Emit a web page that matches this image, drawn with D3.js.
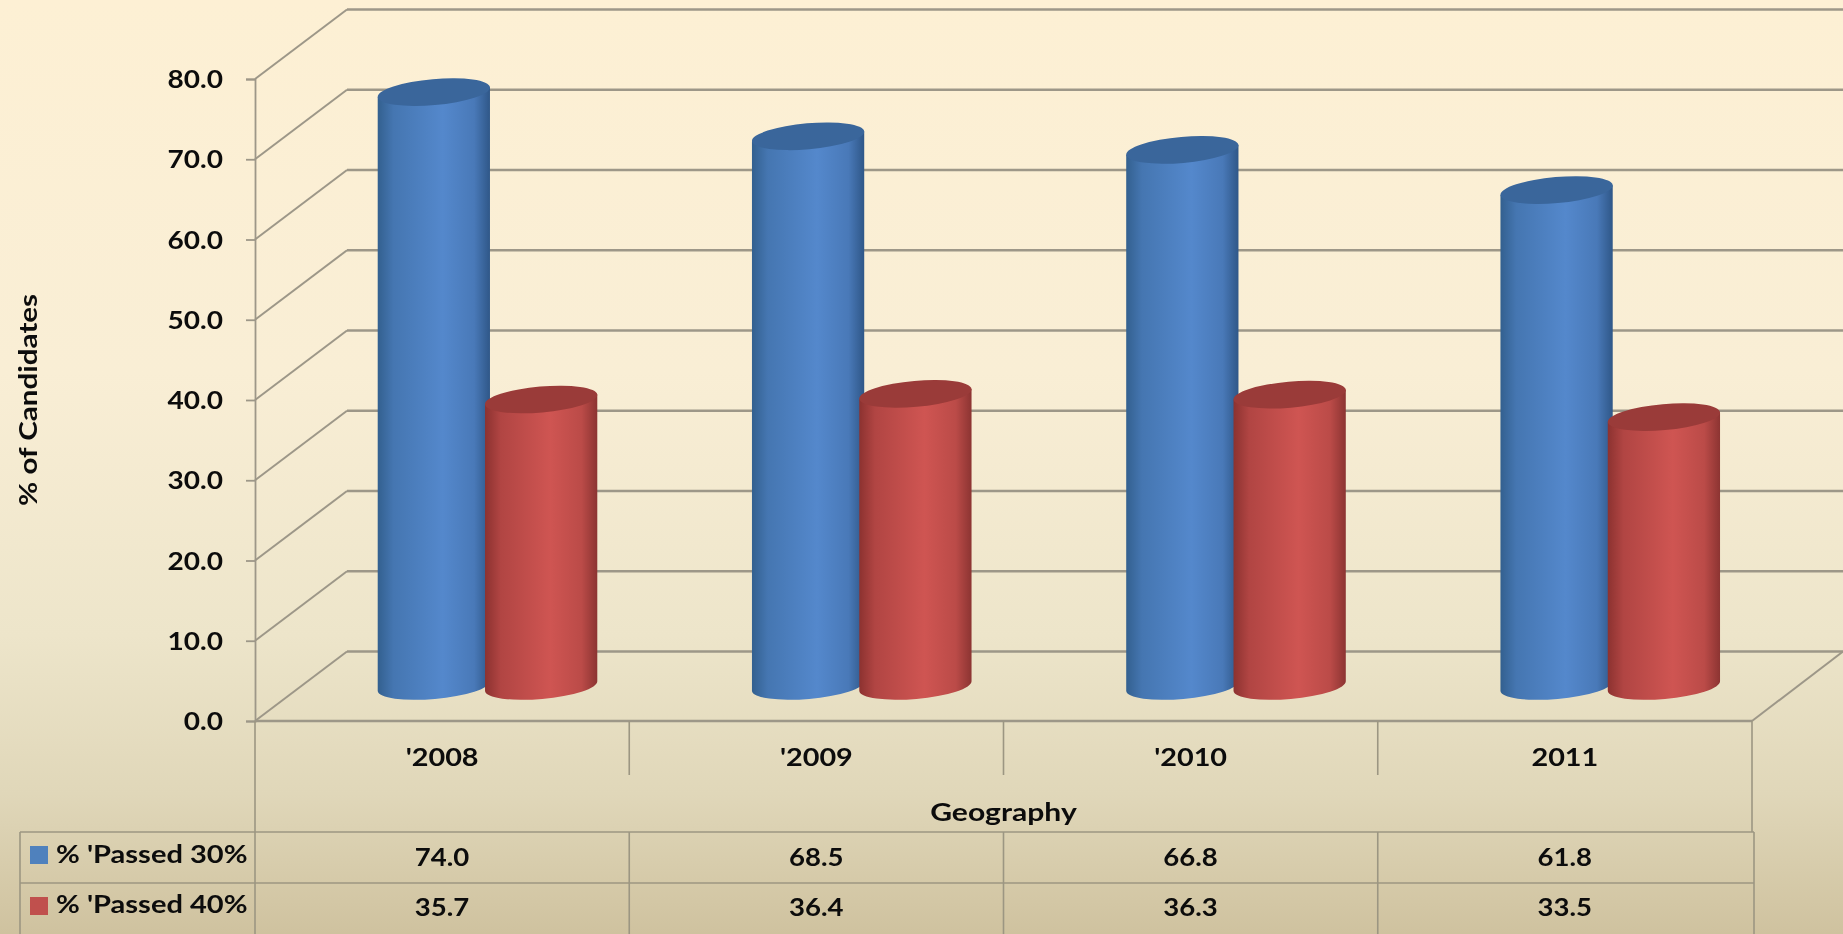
<!DOCTYPE html>
<html>
<head>
<meta charset="utf-8">
<script src="https://cdn.jsdelivr.net/npm/d3@7"></script>
<style>
html,body{margin:0;padding:0;background:#fdf0d4;overflow:hidden}
svg{display:block;filter:blur(0.5px)}
text{font-family:Lato,"Open Sans",sans-serif;font-weight:700;fill:#0c0c0c}
</style>
</head>
<body>
<svg id="c" width="1843" height="934"></svg>
<script>
const categories = ["'2008", "'2009", "'2010", "2011"];
const seriesNames = ["% 'Passed 30%", "% 'Passed 40%"];
const passed30 = [74.0, 68.5, 66.8, 61.8];
const passed40 = [35.7, 36.4, 36.3, 33.5];
const yTicks = [0, 10, 20, 30, 40, 50, 60, 70, 80];
const allSeries = [passed30, passed40];
const palette = [
  {edgeL:"#33608f", mid:"#5488cc", edgeR:"#2f5788", top:"#3a669b", key:"#4f81bd"},
  {edgeL:"#8c3230", mid:"#cf5552", edgeR:"#8c3432", top:"#9a3b39", key:"#c0504d"}
];

const W = 1843, H = 934, FS = 25.5;
const svg = d3.select("#c").attr("viewBox", [0, 0, W, H]);
const defs = svg.append("defs");

const bg = defs.append("linearGradient").attr("id","bg").attr("x1",0).attr("x2",0).attr("y1",0).attr("y2",1);
[[0,"#fdf0d4"],[0.4,"#f9eed5"],[0.68,"#ede5ca"],[0.85,"#e0d7b9"],[1,"#cfc29f"]].forEach(([o,c])=>bg.append("stop").attr("offset",o).attr("stop-color",c));
svg.append("rect").attr("width",W).attr("height",H).attr("fill","url(#bg)");

palette.forEach((p,i)=>{
  const g = defs.append("linearGradient").attr("id","cyl"+i);
  [[0,p.edgeL],[0.14,d3.interpolateRgb(p.edgeL,p.mid)(0.55)],[0.58,p.mid],[0.86,d3.interpolateRgb(p.edgeR,p.mid)(0.7)],[1,p.edgeR]]
    .forEach(([o,c])=>g.append("stop").attr("offset",o).attr("stop-color",c));
});

// Scales: front plane of the 3D box, depth offset to the back wall
const y = d3.scaleLinear().domain([0,80]).range([721,79]);
const x0 = d3.scaleBand().domain(categories).range([255,1752]);
const x1 = d3.scaleBand().domain([0,1]).range([122.5,342.5]).paddingInner(-0.05);
const depthX = 92, depthY = -69.5;
const gridColor = "#9d9788", tableColor = "#9c9682";

const grid = svg.append("g").attr("fill","none");
grid.selectAll(".back").data(yTicks).join("line")
  .attr("x1",255+depthX).attr("x2",W).attr("y1",d=>y(d)+depthY).attr("y2",d=>y(d)+depthY)
  .attr("stroke",gridColor).attr("stroke-width",2.4);
grid.selectAll(".side").data(yTicks).join("line")
  .attr("x1",255).attr("x2",255+depthX).attr("y1",d=>y(d)).attr("y2",d=>y(d)+depthY)
  .attr("stroke",gridColor).attr("stroke-width",2);
grid.append("line").attr("x1",x0.range()[1]).attr("y1",y(0)).attr("x2",W).attr("y2",y(0)+depthY)
  .attr("stroke",gridColor).attr("stroke-width",2);

// Y axis
const yAxis = svg.append("g").attr("transform","translate(255,0)")
  .call(d3.axisLeft(y).tickValues(yTicks).tickSize(9).tickPadding(23).tickFormat(d=>d.toFixed(1)));
yAxis.select(".domain").attr("stroke",gridColor).attr("stroke-width",1.8);
yAxis.selectAll(".tick line").attr("stroke",gridColor).attr("stroke-width",1.8);
yAxis.selectAll("text").attr("font-size",FS).style("font-family","Lato").style("font-weight",700).attr("dy","0.34em");

// Floor front edge
svg.append("line").attr("x1",255).attr("x2",1752).attr("y1",y(0)).attr("y2",y(0)).attr("stroke",gridColor).attr("stroke-width",2.4);

// Cylinders
const barBase = y(0) - 35;
const perUnit = y(0) - y(1);
const rx = x1.bandwidth()/2, ry = 13, tilt = -5;
const rad = tilt*Math.PI/180;
const tipX = rx*Math.cos(rad), tipY = rx*Math.sin(rad);
const bars = svg.append("g");
categories.forEach((c,ci)=>{
  allSeries.forEach((s,si)=>{
    const cx = x0(c) + x1(si) + rx;
    const top = barBase - s[ci]*perUnit;
    const g = bars.append("g");
    g.append("path")
      .attr("d",`M${cx-tipX},${top-tipY}L${cx-tipX},${barBase-tipY}A${rx},${ry} ${tilt} 0 0 ${cx+tipX},${barBase+tipY}L${cx+tipX},${top+tipY}Z`)
      .attr("fill",`url(#cyl${si})`);
    g.append("path")
      .attr("d",`M${cx-tipX},${top-tipY}A${rx},${ry} ${tilt} 0 1 ${cx+tipX},${top+tipY}A${rx},${ry} ${tilt} 0 1 ${cx-tipX},${top-tipY}Z`)
      .attr("fill",palette[si].top);
  });
});

// Data table
const rowY = [832, 883, 934];
const tableX = [20, ...categories.map(c=>x0(c)), 1752];
const t = svg.append("g").attr("stroke",tableColor).attr("stroke-width",1.6);
t.append("line").attr("x1",255).attr("x2",255).attr("y1",y(0)).attr("y2",rowY[0]);
t.append("line").attr("x1",1752).attr("x2",1752).attr("y1",y(0)).attr("y2",rowY[0]);
t.selectAll(".div").data(categories.slice(1)).join("line")
  .attr("x1",d=>x0(d)).attr("x2",d=>x0(d)).attr("y1",y(0)).attr("y2",775);
t.selectAll(".h").data(rowY.slice(0,2)).join("line")
  .attr("x1",20).attr("x2",1754).attr("y1",d=>d).attr("y2",d=>d);
t.selectAll(".v").data(tableX).join("line")
  .attr("x1",d=>d===1752?1754:d).attr("x2",d=>d===1752?1754:d).attr("y1",rowY[0]).attr("y2",rowY[2]);

const mid = c => x0(c) + x0.bandwidth()/2;
const widen = (sel, k) => sel.each(function(){
  const len = this.getComputedTextLength();
  d3.select(this).attr("textLength", len*k).attr("lengthAdjust","spacingAndGlyphs");
});
svg.selectAll(".cat").data(categories).join("text").attr("class","cat")
  .attr("x",mid).attr("y",766).attr("text-anchor","middle").attr("font-size",FS).text(d=>d).call(widen,1.13);
svg.append("text").attr("x",1003.5).attr("y",821).attr("text-anchor","middle").attr("font-size",FS).text("Geography").call(widen,1.18);
svg.append("text").attr("transform","translate(37,400) rotate(-90)").attr("text-anchor","middle").attr("font-size",FS).text("% of Candidates").call(widen,1.16);
yAxis.selectAll("text").call(widen,1.1);

allSeries.forEach((s,si)=>{
  const base = [866, 916][si];
  const keyY = [846, 897][si];
  svg.append("rect").attr("x",30).attr("y",keyY).attr("width",18).attr("height",18).attr("fill",palette[si].key);
  svg.append("text").attr("x",56).attr("y",base-3).attr("font-size",FS).text(seriesNames[si]).call(widen,1.14);
  svg.selectAll(".val"+si).data(categories).join("text").attr("class","val"+si)
    .attr("x",mid).attr("y",base).attr("text-anchor","middle").attr("font-size",FS)
    .text((d,i)=>s[i].toFixed(1)).call(widen,1.08);
});
</script>
</body>
</html>
